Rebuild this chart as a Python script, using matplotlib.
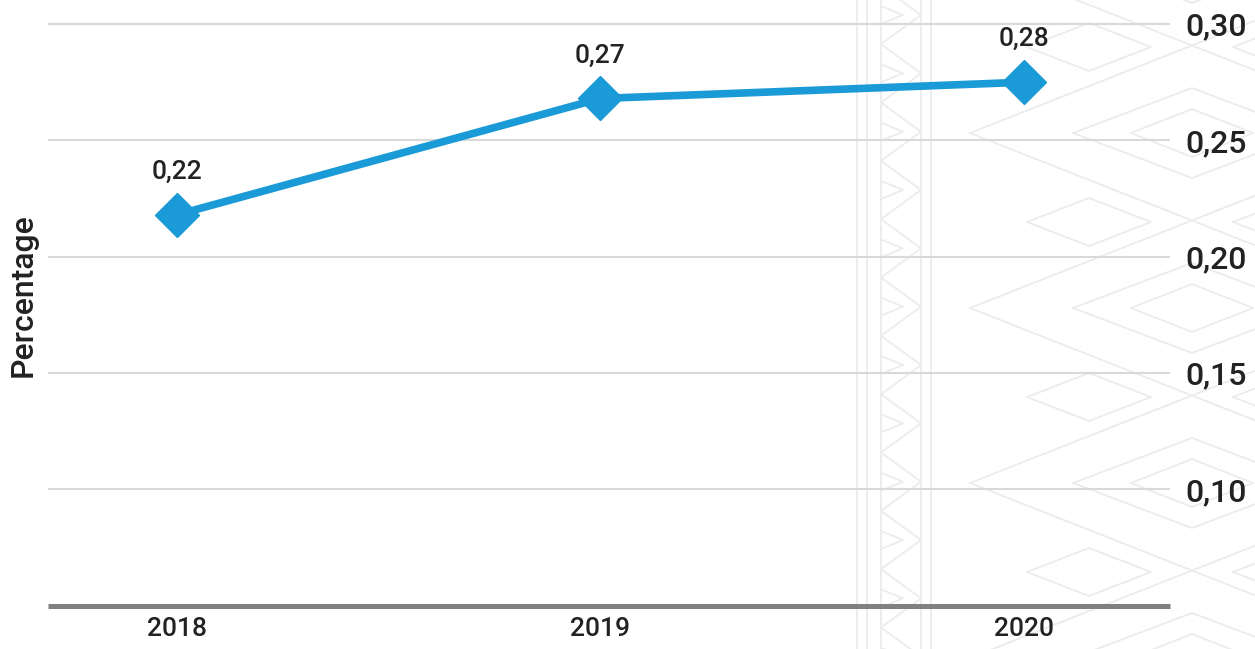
import matplotlib.pyplot as plt
from matplotlib.ticker import FuncFormatter

plt.rcParams['font.family'] = ['Roboto', 'DejaVu Sans']
plt.rcParams['font.weight'] = 'medium'

years = ['2018', '2019', '2020']
percentage = [0.218, 0.268, 0.275]
y_ticks = [0.10, 0.15, 0.20, 0.25, 0.30]

LINE_COLOR = '#1a9ad6'
TEXT_COLOR = '#222222'
PATTERN_COLOR = '#ececec'


def comma(v, pos=None):
    return f'{v:.2f}'.replace('.', ',')


def draw_pattern(bg):
    # vertical band with zigzag
    for x in (857, 867, 881, 921, 931):
        bg.plot([x, x], [0, 649], color=PATTERN_COLOR, lw=1.3)
    period = 175 / 3
    y = 15 - period
    while y < 649 + period:
        bg.plot([921, 881, 921], [y, y + period / 2, y + period], color=PATTERN_COLOR, lw=1.3)
        bg.plot([881, 903, 881], [y - 9, y, y + 9], color=PATTERN_COLOR, lw=1.3)
        y += period

    # diamond lattice on the right
    def diamond(cx, cy, hw, hh):
        bg.plot([cx - hw, cx, cx + hw, cx, cx - hw],
                [cy, cy - hh, cy, cy + hh, cy], color=PATTERN_COLOR, lw=1.3)

    for k in range(-1, 5):
        cy = 133 + 175 * k
        diamond(1192, cy, 222, 87.5)
        diamond(1192, cy, 119, 45)
        diamond(1192, cy, 61, 24)
        diamond(1089, cy - 86, 62, 24)
        diamond(1295, cy - 86, 62, 24)


fig = plt.figure(figsize=(12.55, 6.49), dpi=100)

bg = fig.add_axes([0, 0, 1, 1], zorder=0)
bg.set_xlim(0, 1255)
bg.set_ylim(649, 0)
bg.axis('off')
draw_pattern(bg)

ax = fig.add_axes([48 / 1255, 43.3 / 649, 1122 / 1255, 593.3 / 649], zorder=1)
ax.patch.set_alpha(0)

x = list(range(len(years)))
ax.plot(x, percentage, color=LINE_COLOR, lw=5.5, marker='D', ms=22,
        mfc=LINE_COLOR, mec=LINE_COLOR, zorder=3, clip_on=False)

for xi, v in zip(x, percentage):
    ax.annotate(comma(v), (xi, v), xytext=(0, 31), textcoords='offset points',
                ha='center', va='center', fontsize=19, color=TEXT_COLOR)

ax.set_xlim(-0.304, 2.345)
ax.set_ylim(0.05, 0.305)
ax.set_xticks(x, labels=years)
ax.set_yticks(y_ticks)
ax.yaxis.set_major_formatter(FuncFormatter(comma))
ax.yaxis.tick_right()

ax.tick_params(axis='x', length=0, pad=8, labelsize=19, labelcolor=TEXT_COLOR)
ax.tick_params(axis='y', length=0, pad=11, labelsize=23, labelcolor=TEXT_COLOR)

ax.yaxis.grid(True, color='#d9d9d9', lw=1.5)
ax.set_axisbelow(True)

for side in ('top', 'left', 'right'):
    ax.spines[side].set_visible(False)
ax.spines['bottom'].set_color('#808080')
ax.spines['bottom'].set_linewidth(3.6)
ax.spines['bottom'].set_capstyle('butt')

fig.text(23 / 1255, 1 - 295 / 649, 'Percentage', rotation=90, ha='center', va='center',
         fontsize=23, color=TEXT_COLOR)

fig.savefig('out.png', dpi=100)
